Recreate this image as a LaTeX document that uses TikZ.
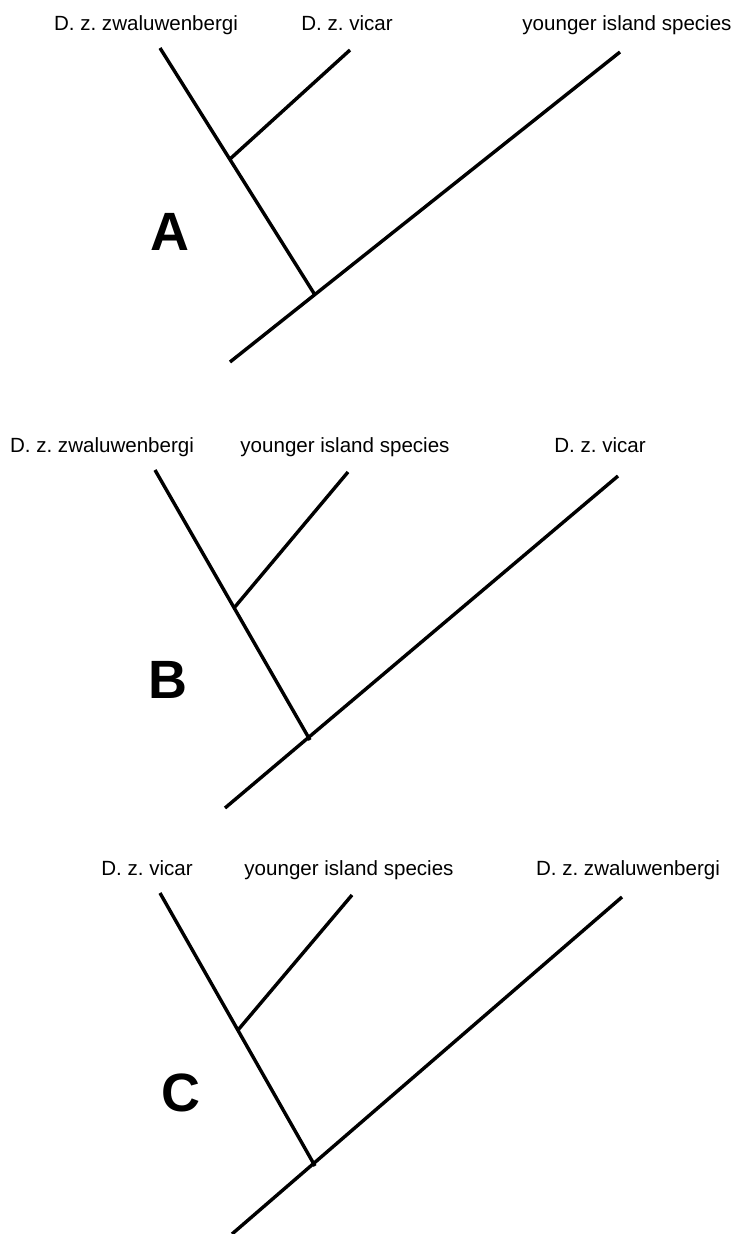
\documentclass[tikz,border=0pt]{standalone}
\usepackage{fontspec}
\setmainfont{Liberation Sans}
\frenchspacing
\begin{document}
\begin{tikzpicture}[x=0.02cm,y=-0.02cm,
  taxon/.style={anchor=base,inner sep=0pt,font=\fontsize{11.7}{14}\selectfont},
  branch/.style={line width=1.95pt},
  panel/.style={inner sep=0pt,font=\fontsize{30.7}{34}\selectfont\bfseries}]

\useasboundingbox (0,0) rectangle (736,1234);

% tree A
\coordinate (rA) at (230,362);
\coordinate (nA) at (315,295);
\coordinate (iA) at (230,159);
\node[taxon] (zA) at (146,30) {D. z. zwaluwenbergi};
\node[taxon] (vA) at (347,30) {D. z. vicar};
\node[taxon] (yA) at (627,30) {younger island species};
\coordinate (tA1) at (160,48);
\coordinate (tA2) at (350,50);
\coordinate (tA3) at (620,52);
\draw[branch] (rA)--(tA3);
\draw[branch] (nA)--(tA1);
\draw[branch] (iA)--(tA2);
\node[panel] (pA) at (170,232) {A};

% tree B
\coordinate (rB) at (225,808);
\coordinate (nB) at (310,740);
\coordinate (iB) at (234,608);
\node[taxon] (zB) at (102,452) {D. z. zwaluwenbergi};
\node[taxon] (yB) at (345,452) {younger island species};
\node[taxon] (vB) at (600,452) {D. z. vicar};
\coordinate (tB1) at (155,470);
\coordinate (tB2) at (348,472);
\coordinate (tB3) at (618,476);
\draw[branch] (rB)--(tB3);
\draw[branch] (nB)--(tB1);
\draw[branch] (iB)--(tB2);
\node[panel] (pB) at (168,680) {B};

% tree C
\coordinate (rC) at (232,1234);
\coordinate (nC) at (315,1166);
\coordinate (iC) at (238,1030);
\node[taxon] (vC) at (147,875) {D. z. vicar};
\node[taxon] (yC) at (349,875) {younger island species};
\node[taxon] (zC) at (628,875) {D. z. zwaluwenbergi};
\coordinate (tC1) at (160,893);
\coordinate (tC2) at (352,895);
\coordinate (tC3) at (622,897);
\draw[branch] (rC)--(tC3);
\draw[branch] (nC)--(tC1);
\draw[branch] (iC)--(tC2);
\node[panel] (pC) at (181,1093) {C};

\end{tikzpicture}
\end{document}
